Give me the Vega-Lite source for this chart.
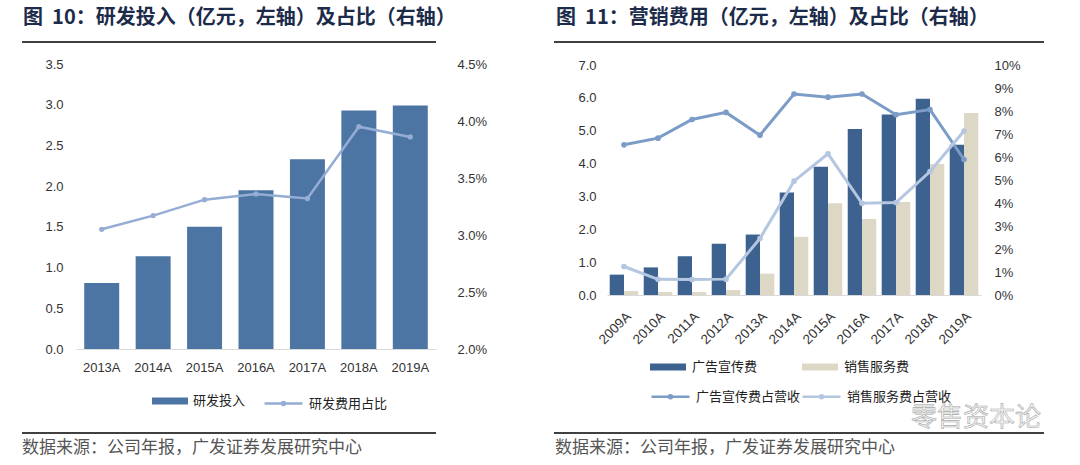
{
  "$schema": "https://vega.github.io/schema/vega-lite/v6.json",
  "background": "white",
  "padding": {"left": 21, "top": 8, "right": 20, "bottom": 2},
  "autosize": {"type": "pad"},
  "datasets": {
    "rd": [
      {"year": "2013A", "s_bar": "研发投入", "rd": 0.81, "s_line": "研发费用占比", "ratio": 0.0305},
      {"year": "2014A", "s_bar": "研发投入", "rd": 1.14, "s_line": "研发费用占比", "ratio": 0.0317},
      {"year": "2015A", "s_bar": "研发投入", "rd": 1.50, "s_line": "研发费用占比", "ratio": 0.0331},
      {"year": "2016A", "s_bar": "研发投入", "rd": 1.95, "s_line": "研发费用占比", "ratio": 0.0336},
      {"year": "2017A", "s_bar": "研发投入", "rd": 2.33, "s_line": "研发费用占比", "ratio": 0.0332},
      {"year": "2018A", "s_bar": "研发投入", "rd": 2.93, "s_line": "研发费用占比", "ratio": 0.0395},
      {"year": "2019A", "s_bar": "研发投入", "rd": 2.99, "s_line": "研发费用占比", "ratio": 0.0386}
    ],
    "mkt_bar": [
      {"year": "2009A", "series": "广告宣传费", "value": 0.62},
      {"year": "2009A", "series": "销售服务费", "value": 0.12},
      {"year": "2010A", "series": "广告宣传费", "value": 0.84},
      {"year": "2010A", "series": "销售服务费", "value": 0.09},
      {"year": "2011A", "series": "广告宣传费", "value": 1.18},
      {"year": "2011A", "series": "销售服务费", "value": 0.09},
      {"year": "2012A", "series": "广告宣传费", "value": 1.56},
      {"year": "2012A", "series": "销售服务费", "value": 0.15},
      {"year": "2013A", "series": "广告宣传费", "value": 1.84},
      {"year": "2013A", "series": "销售服务费", "value": 0.65},
      {"year": "2014A", "series": "广告宣传费", "value": 3.12},
      {"year": "2014A", "series": "销售服务费", "value": 1.77},
      {"year": "2015A", "series": "广告宣传费", "value": 3.90},
      {"year": "2015A", "series": "销售服务费", "value": 2.79},
      {"year": "2016A", "series": "广告宣传费", "value": 5.05},
      {"year": "2016A", "series": "销售服务费", "value": 2.31},
      {"year": "2017A", "series": "广告宣传费", "value": 5.49},
      {"year": "2017A", "series": "销售服务费", "value": 2.83},
      {"year": "2018A", "series": "广告宣传费", "value": 5.97},
      {"year": "2018A", "series": "销售服务费", "value": 3.99},
      {"year": "2019A", "series": "广告宣传费", "value": 4.57},
      {"year": "2019A", "series": "销售服务费", "value": 5.54}
    ],
    "mkt_line": [
      {"year": "2009A", "series": "广告宣传费占营收", "pct": 0.0653},
      {"year": "2010A", "series": "广告宣传费占营收", "pct": 0.0682},
      {"year": "2011A", "series": "广告宣传费占营收", "pct": 0.0763},
      {"year": "2012A", "series": "广告宣传费占营收", "pct": 0.0794},
      {"year": "2013A", "series": "广告宣传费占营收", "pct": 0.0695},
      {"year": "2014A", "series": "广告宣传费占营收", "pct": 0.0874},
      {"year": "2015A", "series": "广告宣传费占营收", "pct": 0.0860},
      {"year": "2016A", "series": "广告宣传费占营收", "pct": 0.0874},
      {"year": "2017A", "series": "广告宣传费占营收", "pct": 0.0784},
      {"year": "2018A", "series": "广告宣传费占营收", "pct": 0.0806},
      {"year": "2019A", "series": "广告宣传费占营收", "pct": 0.0589},
      {"year": "2009A", "series": "销售服务费占营收", "pct": 0.0124},
      {"year": "2010A", "series": "销售服务费占营收", "pct": 0.0068},
      {"year": "2011A", "series": "销售服务费占营收", "pct": 0.0067},
      {"year": "2012A", "series": "销售服务费占营收", "pct": 0.0069},
      {"year": "2013A", "series": "销售服务费占营收", "pct": 0.0246},
      {"year": "2014A", "series": "销售服务费占营收", "pct": 0.0495},
      {"year": "2015A", "series": "销售服务费占营收", "pct": 0.0614},
      {"year": "2016A", "series": "销售服务费占营收", "pct": 0.0399},
      {"year": "2017A", "series": "销售服务费占营收", "pct": 0.0402},
      {"year": "2018A", "series": "销售服务费占营收", "pct": 0.0537},
      {"year": "2019A", "series": "销售服务费占营收", "pct": 0.0713}
    ]
  },
  "spacing": 66,
  "hconcat": [
    {
      "spacing": 15,
      "vconcat": [
        {
          "width": 360, "height": 24,
          "data": {"values": [{"t": "图\u00a0\u00a010：研发投入（亿元，左轴）及占比（右轴）"}]},
          "layer": [
            {"mark": {"type": "text", "align": "left", "baseline": "middle", "dx": -53, "fontSize": 20, "fontWeight": "bold", "color": "#1c2b4a", "font": "Noto Sans CJK SC"},
             "encoding": {"text": {"field": "t"}, "x": {"datum": 0, "scale": {"domain": [0, 1]}, "axis": null}, "y": {"datum": 1, "scale": {"domain": [0, 1]}, "axis": null}}},
            {"mark": {"type": "rule", "xOffset": -54, "strokeWidth": 1.5, "color": "#000000"},
             "encoding": {"x": {"datum": 0}, "x2": {"datum": 1}, "y": {"datum": 0}}}
          ]
        },
        {
          "spacing": 21,
          "vconcat": [
            {
              "width": 360, "height": 285,
              "data": {"name": "rd"},
              "encoding": {
                "x": {"field": "year", "type": "nominal", "sort": null, "scale": {"paddingInner": 0.32, "paddingOuter": 0.16},
                      "axis": {"labelAngle": 0, "domain": true, "domainColor": "#d9d9d9", "domainWidth": 1, "labelPadding": 12, "title": null}}
              },
              "layer": [
                {"mark": {"type": "bar"},
                 "encoding": {
                   "y": {"field": "rd", "type": "quantitative", "scale": {"domain": [0, 3.5]}, "axis": {"values": [0, 0.5, 1, 1.5, 2, 2.5, 3, 3.5], "format": ".1f", "labelPadding": 13, "title": null}},
                   "color": {"field": "s_bar", "type": "nominal", "scale": {"domain": ["研发投入"], "range": ["#4c75a3"]},
                             "legend": {"orient": "none", "legendX": 76, "legendY": 319, "title": null, "direction": "horizontal", "symbolType": "M-1,-0.19H1V0.19H-1Z", "symbolSize": 1296, "symbolStrokeWidth": 0, "labelOffset": 5}}
                 }},
                {"mark": {"type": "line", "strokeWidth": 2.5, "point": {"filled": true, "size": 28}},
                 "encoding": {
                   "y": {"field": "ratio", "type": "quantitative", "scale": {"domain": [0.02, 0.045]}, "axis": {"orient": "right", "values": [0.02, 0.025, 0.03, 0.035, 0.04, 0.045], "format": ".1%", "labelPadding": 21, "title": null}},
                   "color": {"field": "s_line", "type": "nominal", "scale": {"domain": ["研发费用占比"], "range": ["#95acd4"]},
                             "legend": {"orient": "none", "legendX": 187, "legendY": 319, "title": null, "direction": "horizontal", "symbolType": "M-1,0H1M-0.08,0A0.08,0.08 0 1,1 0.08,0A0.08,0.08 0 1,1 -0.08,0Z", "symbolSize": 1444, "symbolStrokeWidth": 2.5, "labelOffset": 5}}
                 }}
              ],
              "resolve": {"scale": {"y": "independent", "color": "independent"}}
            },
            {
              "width": 360, "height": 15,
              "data": {"values": [{"t": "数据来源：公司年报，广发证券发展研究中心"}]},
              "layer": [
                {"mark": {"type": "rule", "xOffset": -54, "strokeWidth": 1.5, "color": "#000000"},
                 "encoding": {"x": {"datum": 0, "scale": {"domain": [0, 1]}, "axis": null}, "x2": {"datum": 1}, "y": {"datum": 1, "scale": {"domain": [0, 1]}, "axis": null}}},
                {"mark": {"type": "text", "align": "left", "baseline": "middle", "dx": -54, "fontSize": 17, "color": "#555555", "font": "Noto Sans CJK SC"},
                 "encoding": {"text": {"field": "t"}, "x": {"datum": 0}, "y": {"datum": 0}}}
              ]
            }
          ]
        }
      ]
    },
    {
      "spacing": 16,
      "vconcat": [
        {
          "width": 437, "height": 24,
          "data": {"values": [{"t": "图\u00a0\u00a011：营销费用（亿元，左轴）及占比（右轴）"}]},
          "layer": [
            {"mark": {"type": "text", "align": "left", "baseline": "middle", "dx": -51, "fontSize": 20, "fontWeight": "bold", "color": "#1c2b4a", "font": "Noto Sans CJK SC"},
             "encoding": {"text": {"field": "t"}, "x": {"datum": 0, "scale": {"domain": [0, 1]}, "axis": null}, "y": {"datum": 1, "scale": {"domain": [0, 1]}, "axis": null}}},
            {"mark": {"type": "rule", "xOffset": -53, "strokeWidth": 1.5, "color": "#000000"},
             "encoding": {"x": {"datum": 0}, "x2": {"datum": 1}, "y": {"datum": 0}}}
          ]
        },
        {
          "spacing": 1,
          "vconcat": [
            {
              "width": 374, "height": 230,
              "layer": [
                {"data": {"name": "mkt_bar"},
                 "mark": {"type": "bar"},
                 "encoding": {
                   "x": {"field": "year", "type": "nominal", "sort": null, "scale": {"paddingInner": 0.16, "paddingOuter": 0.08},
                         "axis": {"labelAngle": -45, "domain": true, "domainColor": "#d9d9d9", "domainWidth": 1, "labelPadding": 14, "labelFontSize": 13.5, "title": null}},
                   "xOffset": {"field": "series", "type": "nominal", "sort": null, "scale": {"domain": ["广告宣传费", "销售服务费"], "paddingInner": 0, "paddingOuter": 0}},
                   "y": {"field": "value", "type": "quantitative", "scale": {"domain": [0, 7]}, "axis": {"values": [0, 1, 2, 3, 4, 5, 6, 7], "format": ".1f", "labelPadding": 11, "title": null}},
                   "color": {"field": "series", "type": "nominal", "scale": {"domain": ["广告宣传费", "销售服务费"], "range": ["#3e6290", "#ddd8c6"]},
                             "legend": {"orient": "none", "legendX": 43, "legendY": 284, "title": null, "direction": "horizontal", "columnPadding": 44, "symbolType": "M-1,-0.19H1V0.19H-1Z", "symbolSize": 1296, "symbolStrokeWidth": 0, "labelOffset": 6}}
                 }},
                {"data": {"name": "mkt_line"},
                 "mark": {"type": "line", "strokeWidth": 3, "point": {"filled": true, "size": 32}},
                 "encoding": {
                   "x": {"field": "year", "type": "nominal", "sort": null},
                   "y": {"field": "pct", "type": "quantitative", "scale": {"domain": [0, 0.1]}, "axis": {"orient": "right", "values": [0, 0.01, 0.02, 0.03, 0.04, 0.05, 0.06, 0.07, 0.08, 0.09, 0.1], "format": ".0%", "labelPadding": 13, "title": null}},
                   "color": {"field": "series", "type": "nominal", "scale": {"domain": ["广告宣传费占营收", "销售服务费占营收"], "range": ["#7c9cc8", "#b4c6e0"]},
                             "legend": {"orient": "none", "legendX": 43, "legendY": 311, "title": null, "direction": "horizontal", "columnPadding": -5, "symbolType": "M-1,0H1M-0.08,0A0.08,0.08 0 1,1 0.08,0A0.08,0.08 0 1,1 -0.08,0Z", "symbolSize": 1444, "symbolStrokeWidth": 2.5, "labelOffset": 5}}
                 }}
              ],
              "resolve": {"scale": {"y": "independent", "color": "independent"}}
            },
            {
              "width": 437, "height": 15,
              "data": {"values": [{"t": "数据来源：公司年报，广发证券发展研究中心", "w": "零售资本论"}]},
              "layer": [
                {"mark": {"type": "rule", "xOffset": -53, "strokeWidth": 1.5, "color": "#000000"},
                 "encoding": {"x": {"datum": 0, "scale": {"domain": [0, 1]}, "axis": null}, "x2": {"datum": 1}, "y": {"datum": 1, "scale": {"domain": [0, 1]}, "axis": null}}},
                {"mark": {"type": "text", "align": "left", "baseline": "middle", "dx": -52, "fontSize": 17, "color": "#555555", "font": "Noto Sans CJK SC"},
                 "encoding": {"text": {"field": "t"}, "x": {"datum": 0}, "y": {"datum": 0}}},
                {"mark": {"type": "text", "align": "left", "baseline": "middle", "dx": 304, "dy": -15, "fontSize": 26, "fill": "#f4f4f4", "stroke": "#a8a8a8", "strokeWidth": 0.6, "font": "Noto Sans CJK SC"},
                 "encoding": {"text": {"field": "w"}, "x": {"datum": 0}, "y": {"datum": 1}}}
              ]
            }
          ]
        }
      ]
    }
  ],
  "config": {
    "view": {"stroke": null},
    "font": "Noto Sans CJK SC",
    "axis": {"labelFont": "Liberation Sans", "labelFontSize": 13, "labelColor": "#333333", "grid": false, "ticks": false, "domain": false},
    "legend": {"labelFont": "Noto Sans CJK SC", "labelFontSize": 13, "labelColor": "#222222", "padding": 0}
  }
}
